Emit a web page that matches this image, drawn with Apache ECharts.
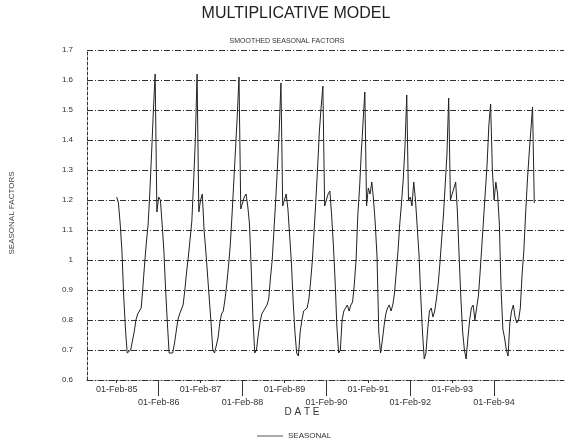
<!DOCTYPE html>
<html>
<head>
<meta charset="utf-8">
<script src="https://cdn.jsdelivr.net/npm/echarts@6/dist/echarts.min.js"></script>
<style>
html,body{margin:0;padding:0;background:#fff;}
#chart{width:565px;height:438px;}
</style>
</head>
<body>
<div id="chart"></div>
<script>
// Smoothed seasonal factors, semi-monthly (1st and 15th), each year starting 01-Feb
const y1985 = [1.21,1.19,1.12,1.03,0.88,0.77,0.69,0.69,0.70,0.73,0.76,0.80,0.82,0.83,0.84,0.91,0.99,1.06,1.12,1.23,1.36,1.50,1.62,1.16];
const y1986 = [1.21,1.20,1.12,1.03,0.90,0.79,0.69,0.69,0.69,0.72,0.76,0.80,0.82,0.82,0.85,0.90,0.96,1.01,1.07,1.13,1.26,1.40,1.62,1.16];
const y1987 = [1.20,1.22,1.10,1.03,0.95,0.87,0.79,0.70,0.69,0.69,0.74,0.79,0.82,0.83,0.87,0.92,0.98,1.05,1.15,1.26,1.37,1.48,1.61,1.17];
const y1988 = [1.19,1.21,1.22,1.18,1.12,0.97,0.80,0.69,0.70,0.75,0.79,0.82,0.83,0.84,0.85,0.87,0.94,1.00,1.10,1.20,1.31,1.43,1.59,1.18];
const y1989 = [1.20,1.22,1.17,1.08,0.99,0.86,0.76,0.69,0.68,0.76,0.80,0.83,0.83,0.84,0.87,0.93,1.00,1.10,1.20,1.31,1.43,1.51,1.58,1.18];
const y1990 = [1.20,1.22,1.23,1.15,1.05,0.93,0.78,0.69,0.70,0.80,0.83,0.84,0.85,0.83,0.85,0.86,0.92,1.00,1.15,1.24,1.36,1.46,1.56,1.18];
const y1991 = [1.24,1.22,1.26,1.20,1.12,1.01,0.76,0.69,0.73,0.78,0.82,0.84,0.85,0.83,0.85,0.89,0.96,1.03,1.12,1.19,1.27,1.38,1.55,1.20];
const y1992 = [1.21,1.18,1.26,1.20,1.11,1.02,0.88,0.76,0.67,0.69,0.77,0.83,0.84,0.81,0.83,0.87,0.92,0.99,1.07,1.15,1.25,1.35,1.54,1.20];
const y1993 = [1.22,1.24,1.26,1.16,1.01,0.87,0.76,0.70,0.67,0.74,0.80,0.84,0.85,0.80,0.80,0.88,0.96,1.05,1.14,1.23,1.32,1.45,1.52,1.30];
const y1994 = [1.20,1.26,1.22,1.12,0.90,0.77,0.74,0.70,0.68,0.79,0.83,0.85,0.81,0.79,0.80,0.84,0.95,1.03,1.15,1.26,1.35,1.43,1.51,1.19];

const yTicks = [0.6,0.7,0.8,0.9,1.0,1.1,1.2,1.3,1.4,1.5,1.6,1.7];
const labelYears = [85,86,87,88,89,90,91,92,93,94];
const seriesName = 'SEASONAL';

// axis categories: half-month steps from mid-1984 to late 1995
const monthNames = ['Jan','Feb','Mar','Apr','May','Jun','Jul','Aug','Sep','Oct','Nov','Dec'];
const LEAD = 17, TRAIL = 256;
const categories = [];
for (let i = -LEAD; i <= TRAIL; i++) {
  const half = ((i % 2) + 2) % 2;
  const m = 1 + Math.floor(i / 2);
  const yr = 1985 + Math.floor(m / 12);
  const mm = ((m % 12) + 12) % 12;
  categories.push((half === 0 ? '01' : '15') + '-' + monthNames[mm] + '-' + String(yr).slice(2));
}
const values = [].concat(y1985,y1986,y1987,y1988,y1989,y1990,y1991,y1992,y1993,y1994);
const data = values.map((v, k) => [categories[LEAD + k], v]);

function isFeb(val, parity) {
  if (val.indexOf('01-Feb-') !== 0) return false;
  const yr = parseInt(val.slice(7), 10);
  const pos = labelYears.indexOf(yr);
  return pos >= 0 && pos % 2 === parity;
}

const FONT = 'Liberation Sans';
const chart = echarts.init(document.getElementById('chart'), null, {renderer: 'canvas'});
const gridStyle = {color: '#333', width: 1, type: [6, 2, 1, 2]};
chart.setOption({
  animation: false,
  backgroundColor: '#fff',
  textStyle: {fontFamily: FONT},
  grid: {left: 87, right: 1, top: 50, bottom: 58, containLabel: false},
  graphic: [
    {type: 'text', x: 296, y: 14, style: {text: 'MULTIPLICATIVE MODEL', font: '16px "Liberation Sans"', fill: '#222', align: 'center', verticalAlign: 'middle'}},
    {type: 'text', x: 287, y: 41, style: {text: 'SMOOTHED SEASONAL FACTORS', font: '7px "Liberation Sans"', fill: '#333', align: 'center', verticalAlign: 'middle'}},
    {type: 'text', x: 302, y: 412, style: {text: 'D A T E', font: '10px "Liberation Sans"', fill: '#333', align: 'center', verticalAlign: 'middle'}},
    {type: 'text', x: 12, y: 213, rotation: Math.PI / 2, style: {text: 'SEASONAL FACTORS', font: '8px "Liberation Sans"', fill: '#444', align: 'center', verticalAlign: 'middle'}}
  ],
  legend: {
    data: [{name: seriesName, icon: 'rect'}], left: 252, top: 427, itemWidth: 26, itemHeight: 1, itemGap: 6,
    itemStyle: {color: '#555'},
    textStyle: {fontSize: 8, color: '#333', fontFamily: FONT}
  },
  xAxis: [
    {
      type: 'category', data: categories, boundaryGap: false, position: 'bottom',
      axisLine: {show: true, lineStyle: gridStyle},
      axisTick: {show: true, length: 3, interval: (i, v) => isFeb(v, 0), lineStyle: {color: '#333'}},
      axisLabel: {interval: (i, v) => isFeb(v, 0), margin: 5, fontSize: 9, color: '#333', fontFamily: FONT},
      splitLine: {show: false}
    },
    {
      type: 'category', data: categories, boundaryGap: false, position: 'bottom', offset: 0,
      axisLine: {show: false},
      axisTick: {show: true, length: 16, interval: (i, v) => isFeb(v, 1), lineStyle: {color: '#333'}},
      axisLabel: {interval: (i, v) => isFeb(v, 1), margin: 18, fontSize: 9, color: '#333', fontFamily: FONT},
      splitLine: {show: false}
    }
  ],
  yAxis: {
    type: 'value', min: yTicks[0], max: yTicks[yTicks.length - 1], interval: 0.1,
    axisLine: {show: true, lineStyle: {color: '#333', width: 1, type: [3, 2]}},
    axisTick: {show: false},
    axisLabel: {margin: 14, fontSize: 8, color: '#333', fontFamily: FONT,
      formatter: v => String(+(+v).toFixed(1))},
    splitLine: {show: true, lineStyle: gridStyle}
  },
  series: [{
    name: seriesName, type: 'line', data: data, xAxisIndex: 0,
    showSymbol: false, symbol: 'none',
    lineStyle: {color: '#222', width: 1},
    itemStyle: {color: '#222'}
  }]
});
</script>
</body>
</html>
